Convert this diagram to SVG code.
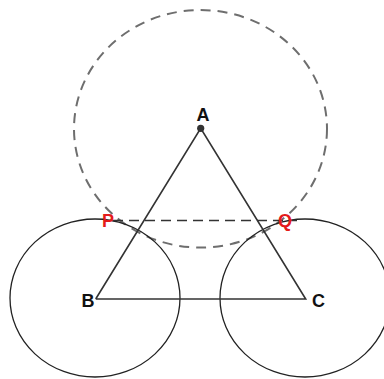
<svg xmlns="http://www.w3.org/2000/svg" width="384" height="379" viewBox="0 0 384 379">
<style>
.bg{fill:#fff}
.circ{fill:none;stroke:#222;stroke-width:1.3}
.dash{fill:none;stroke:#6e6e6e;stroke-width:2;stroke-dasharray:10 7}
.dline{fill:none;stroke:#333;stroke-width:1.5;stroke-dasharray:10 6}
.tri{fill:none;stroke:#333;stroke-width:1.6}
.lbl{font-family:"Liberation Sans",Arial,sans-serif;font-weight:bold;font-size:18px;fill:#111}
.red{fill:#e41b1b}
</style>
<rect class="bg" x="0" y="0" width="384" height="379"/>
<g id="connectors">
<ellipse id="circleA" class="dash" cx="200.5" cy="128.8" rx="126.5" ry="118.8"/>
<ellipse id="circleB" class="circ" cx="95" cy="298" rx="85" ry="79"/>
<ellipse id="circleC" class="circ" cx="305" cy="298" rx="85" ry="79"/>
<line class="dline" x1="113" y1="220.5" x2="297" y2="220.5"/>
<polyline class="tri" points="95.7,299 200.7,128.3 305.7,299 95.7,299"/>
</g>
<g id="A">
<circle cx="200.7" cy="128.3" r="3.6" fill="#333"/>
<text class="lbl" x="203" y="121" text-anchor="middle">A</text>
</g>
<g id="B"><text class="lbl" x="88" y="306.5" text-anchor="middle">B</text></g>
<g id="C"><text class="lbl" x="318.5" y="306.5" text-anchor="middle">C</text></g>
<g id="P"><text class="lbl red" x="108" y="226.5" text-anchor="middle">P</text></g>
<g id="Q"><text class="lbl red" x="285" y="226.5" text-anchor="middle">Q</text></g>
</svg>
